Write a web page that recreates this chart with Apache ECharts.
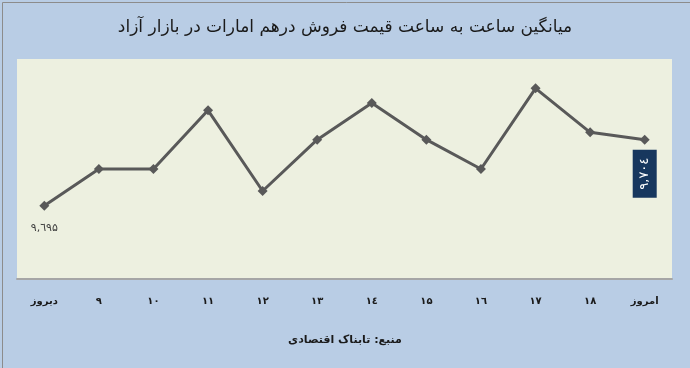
<!DOCTYPE html>
<html>
<head>
<meta charset="utf-8">
<script src="https://cdn.jsdelivr.net/npm/echarts@6/dist/echarts.min.js"></script>
<style>html,body{margin:0;padding:0;background:#B9CDE5;}#c{width:690px;height:368px;}</style>
</head>
<body>
<div id="c"></div>
<script>
const titleText = 'میانگین ساعت به ساعت قیمت فروش درهم امارات در بازار آزاد';
const sourceText = 'منبع: تابناک اقتصادی';
const categories = ['دیروز', '۹', '۱۰', '۱۱', '۱۲', '۱۳', '۱٤', '۱۵', '۱٦', '۱۷', '۱۸', 'امروز'];
const prices = [9695, 9700, 9700, 9708, 9697, 9704, 9709, 9704, 9700, 9711, 9705, 9704];
const yMin = 9685;
const yMax = 9715;

const digitMap = ['۰','۱','۲','۳','٤','۵','٦','۷','۸','۹'];
function faNum(v) {
  const s = String(v).replace(/\B(?=(\d{3})+(?!\d))/g, ',');
  return s.replace(/\d/g, d => digitMap[+d]);
}
const last = prices.length - 1;
const seriesData = prices.map((v, i) => {
  if (i === 0) {
    return { value: v, label: { show: true, position: 'bottom', distance: 12, color: '#404040', fontSize: 11 } };
  }
  if (i === last) {
    return { value: v, label: { show: true, position: 'bottom', distance: 5, rotate: 90,
      align: 'right', verticalAlign: 'middle', color: '#ffffff',
      backgroundColor: '#17375E', padding: [6, 8, 5, 8], fontSize: 13 } };
  }
  return v;
});

const chart = echarts.init(document.getElementById('c'), null, { renderer: 'canvas' });
chart.setOption({
  backgroundColor: '#B9CDE5',
  animation: false,
  textStyle: { fontFamily: '"DejaVu Sans", "Noto Sans", sans-serif' },
  title: [
    { text: titleText, left: 'center', top: 14,
      textStyle: { fontSize: 17, fontWeight: 'normal', color: '#1a1a1a', fontFamily: '"DejaVu Sans", sans-serif' } },
    { text: sourceText, left: 'center', top: 330,
      textStyle: { fontSize: 11, fontWeight: 'bold', color: '#1a1a1a', fontFamily: '"DejaVu Sans", sans-serif' } }
  ],
  graphic: [
    { type: 'rect', left: 0, top: 0, shape: { x: 0.5, y: 0.5, width: 689, height: 367 },
      style: { fill: 'none', stroke: '#8C8C8C', lineWidth: 1 }, silent: true }
  ],
  grid: { left: 17, right: 18, top: 59, bottom: 89, show: true, backgroundColor: '#EDF0E0', borderWidth: 0 },
  xAxis: {
    type: 'category', data: categories, boundaryGap: true,
    axisLine: { show: true, lineStyle: { color: '#A6A6A6', width: 2 } },
    axisTick: { show: false },
    axisLabel: { margin: 17, color: '#1a1a1a', fontSize: 10, fontWeight: 'bold', interval: 0 }
  },
  yAxis: {
    type: 'value', min: yMin, max: yMax, show: false, splitLine: { show: false }
  },
  series: [{
    type: 'line', data: seriesData,
    symbol: 'diamond', symbolSize: 10,
    lineStyle: { color: '#595959', width: 3 },
    itemStyle: { color: '#595959' },
    label: { show: false, formatter: p => faNum(p.value) }
  }]
});
</script>
</body>
</html>
